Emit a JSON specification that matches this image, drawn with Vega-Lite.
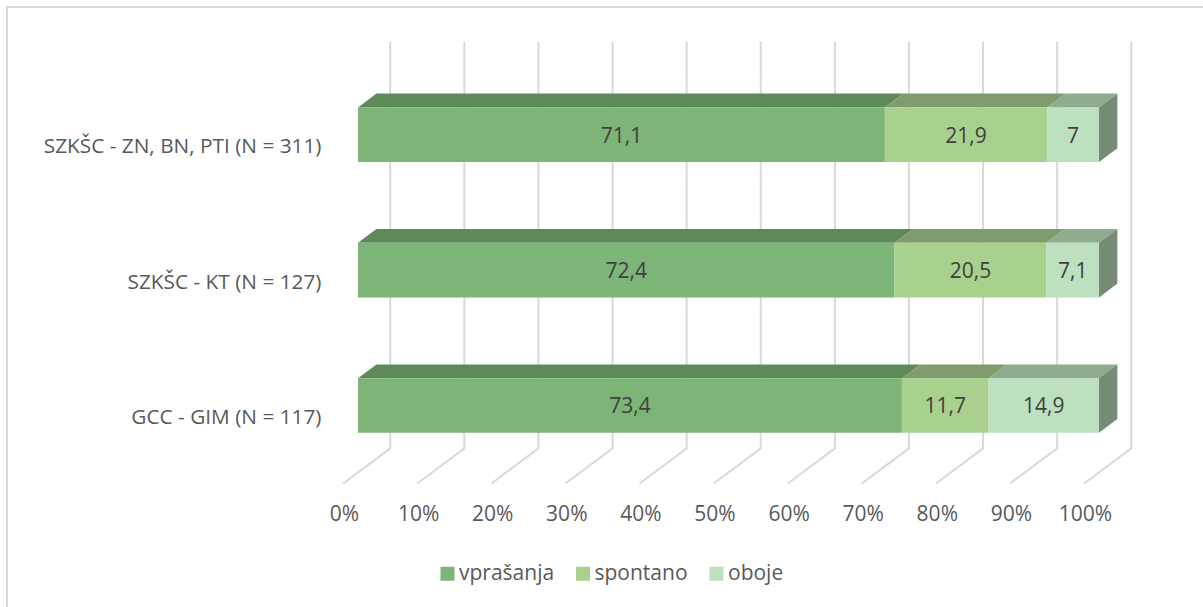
{
  "$schema": "https://vega.github.io/schema/vega-lite/v6.json",
  "width": 1203,
  "height": 607,
  "padding": 0,
  "autosize": {"type": "none"},
  "background": "white",
  "view": {"stroke": null, "fill": "white"},
  "config": {"font": "Open Sans"},
  "datasets": {
    "bars": [
      {"group": "SZKŠC - ZN, BN, PTI (N = 311)", "idx": 0, "series": "vprašanja", "ord": 0, "value": 71.1},
      {"group": "SZKŠC - ZN, BN, PTI (N = 311)", "idx": 0, "series": "spontano", "ord": 1, "value": 21.9},
      {"group": "SZKŠC - ZN, BN, PTI (N = 311)", "idx": 0, "series": "oboje", "ord": 2, "value": 7},
      {"group": "SZKŠC - KT (N = 127)", "idx": 1, "series": "vprašanja", "ord": 0, "value": 72.4},
      {"group": "SZKŠC - KT (N = 127)", "idx": 1, "series": "spontano", "ord": 1, "value": 20.5},
      {"group": "SZKŠC - KT (N = 127)", "idx": 1, "series": "oboje", "ord": 2, "value": 7.1},
      {"group": "GCC - GIM (N = 117)", "idx": 2, "series": "vprašanja", "ord": 0, "value": 73.4},
      {"group": "GCC - GIM (N = 117)", "idx": 2, "series": "spontano", "ord": 1, "value": 11.7},
      {"group": "GCC - GIM (N = 117)", "idx": 2, "series": "oboje", "ord": 2, "value": 14.9}
    ],
    "ticks": [
      {"tick": 0}, {"tick": 10}, {"tick": 20}, {"tick": 30}, {"tick": 40}, {"tick": 50},
      {"tick": 60}, {"tick": 70}, {"tick": 80}, {"tick": 90}, {"tick": 100}
    ]
  },
  "layer": [
    {
      "data": {"name": "ticks"},
      "transform": [
        {"calculate": "[datum.tick + 4.35, datum.tick + 4.35, datum.tick - 2.0]", "as": "gx"},
        {"calculate": "[-0.686, 2.317, 2.576]", "as": "gy"},
        {"flatten": ["gx", "gy"]}
      ],
      "mark": {"type": "line", "stroke": "#D9D9D9", "strokeWidth": 2, "clip": false},
      "encoding": {
        "x": {
          "field": "gx", "type": "quantitative",
          "scale": {"domain": [0, 100], "range": [358, 1099], "nice": false, "zero": false},
          "axis": {
            "values": [0, 10, 20, 30, 40, 50, 60, 70, 80, 90, 100],
            "format": ".0f", "labelExpr": "datum.label + '%'",
            "title": null, "domain": false, "ticks": false, "grid": false,
            "labelFontSize": 21, "labelColor": "#595959", "labelOffset": -14,
            "labelPadding": 0, "offset": -93, "labelBaseline": "middle", "labelFlush": false, "labelOverlap": false
          }
        },
        "y": {
          "field": "gy", "type": "quantitative",
          "scale": {"domain": [-0.9948, 3.4882], "range": [0, 607], "nice": false, "zero": false},
          "axis": {
            "values": [0, 1, 2],
            "labelExpr": "['SZKŠC - ZN, BN, PTI (N = 311)', 'SZKŠC - KT (N = 127)', 'GCC - GIM (N = 117)'][datum.value]",
            "title": null, "domain": false, "ticks": false, "grid": false,
            "labelFontSize": 20.8, "labelColor": "#595959", "labelOffset": 12, "labelLimit": 400,
            "labelPadding": 0, "offset": -321, "labelFlush": false
          }
        },
        "detail": {"field": "tick"},
        "order": {"field": "gy", "type": "quantitative"}
      }
    },
    {
      "data": {"values": [{"edge": "frame"}]},
      "mark": {"type": "rule", "stroke": "#D9D9D9", "strokeWidth": 2, "clip": false},
      "encoding": {
        "x": {"datum": -47.37, "type": "quantitative"},
        "y": {"datum": -0.9431, "type": "quantitative"},
        "y2": {"datum": 3.4882}
      }
    },
    {
      "data": {"values": [{"edge": "frame"}]},
      "mark": {"type": "rule", "stroke": "#D9D9D9", "strokeWidth": 2, "clip": false},
      "encoding": {
        "x": {"datum": -47.5, "type": "quantitative"},
        "x2": {"datum": 114.03},
        "y": {"datum": -0.9431, "type": "quantitative"}
      }
    },
    {
      "data": {"name": "bars"},
      "transform": [
        {"stack": "value", "groupby": ["group"], "sort": [{"field": "ord", "order": "ascending"}], "as": ["v0", "v1"]},
        {"calculate": "[datum.v0, datum.v0 + 2.48, datum.v1 + 2.48, datum.v1]", "as": "tx"},
        {"calculate": "[datum.idx - 0.2015, datum.idx - 0.3035, datum.idx - 0.3035, datum.idx - 0.2015]", "as": "ty"},
        {"calculate": "[0, 1, 2, 3]", "as": "corner"},
        {"flatten": ["tx", "ty", "corner"]}
      ],
      "mark": {"type": "line", "interpolate": "linear-closed", "clip": false, "strokeWidth": 0},
      "encoding": {
        "x": {"field": "tx", "type": "quantitative"},
        "y": {"field": "ty", "type": "quantitative"},
        "detail": {"field": "group"},
        "fill": {
          "field": "series", "type": "nominal", "legend": null,
          "scale": {"domain": ["vprašanja", "spontano", "oboje"], "range": ["#5E8A5A", "#7F9D6C", "#8FAC91"]}
        },
        "order": {"field": "corner", "type": "quantitative"}
      }
    },
    {
      "data": {"name": "bars"},
      "transform": [
        {"filter": "datum.series === 'oboje'"},
        {"calculate": "[100, 102.48]", "as": "sx"},
        {"calculate": "[datum.idx + 0.2015, datum.idx + 0.0995]", "as": "sy"},
        {"calculate": "[datum.idx - 0.2015, datum.idx - 0.3035]", "as": "sy2"},
        {"flatten": ["sx", "sy", "sy2"]}
      ],
      "mark": {"type": "area", "orient": "vertical", "color": "#778C77", "clip": false},
      "encoding": {
        "x": {"field": "sx", "type": "quantitative"},
        "y": {"field": "sy", "type": "quantitative"},
        "y2": {"field": "sy2"},
        "detail": {"field": "group"}
      }
    },
    {
      "data": {"name": "bars"},
      "transform": [
        {"stack": "value", "groupby": ["group"], "sort": [{"field": "ord", "order": "ascending"}], "as": ["v0", "v1"]},
        {"calculate": "datum.idx - 0.2015", "as": "yTop"},
        {"calculate": "datum.idx + 0.2015", "as": "yBottom"}
      ],
      "mark": {"type": "rect", "clip": false},
      "encoding": {
        "x": {"field": "v0", "type": "quantitative"},
        "x2": {"field": "v1"},
        "y": {"field": "yTop", "type": "quantitative"},
        "y2": {"field": "yBottom"},
        "color": {
          "field": "series", "type": "nominal",
          "scale": {"domain": ["vprašanja", "spontano", "oboje"], "range": ["#7DB477", "#A9D18E", "#BDE0BF"]},
          "legend": {
            "title": null, "orient": "none", "legendX": 437, "legendY": 563,
            "direction": "horizontal", "columns": 3, "symbolType": "square", "symbolSize": 196,
            "symbolStrokeWidth": 0, "labelFontSize": 21, "labelColor": "#595959", "labelOffset": 1,
            "columnPadding": 17.5, "padding": 0
          }
        }
      }
    },
    {
      "data": {"name": "bars"},
      "transform": [
        {"stack": "value", "groupby": ["group"], "sort": [{"field": "ord", "order": "ascending"}], "as": ["v0", "v1"]},
        {"calculate": "(datum.v0 + datum.v1) / 2", "as": "vm"},
        {"calculate": "replace(format(datum.value, '.1~f'), '.', ',')", "as": "lab"}
      ],
      "mark": {"type": "text", "fontSize": 21, "color": "#404040", "align": "center", "baseline": "middle", "clip": false, "dy": 2},
      "encoding": {
        "x": {"field": "vm", "type": "quantitative"},
        "y": {"field": "idx", "type": "quantitative"},
        "text": {"field": "lab", "type": "nominal"}
      }
    }
  ],
  "resolve": {"scale": {"fill": "independent", "color": "independent"}}
}
